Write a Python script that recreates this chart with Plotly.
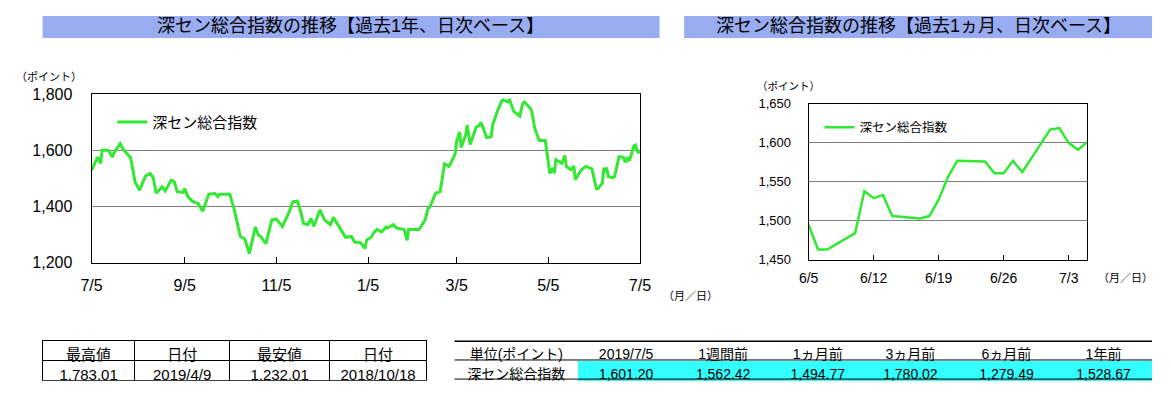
import plotly.graph_objects as go

# ---------------- data ----------------
year_dates = [
    "2018-07-05", "2018-07-09", "2018-07-11", "2018-07-12", "2018-07-16", "2018-07-19",
    "2018-07-20", "2018-07-24", "2018-07-26", "2018-07-31", "2018-08-03", "2018-08-06",
    "2018-08-08", "2018-08-10", "2018-08-13", "2018-08-15", "2018-08-17", "2018-08-21",
    "2018-08-23", "2018-08-27", "2018-08-29", "2018-08-31", "2018-09-04", "2018-09-05",
    "2018-09-07", "2018-09-10", "2018-09-14", "2018-09-17", "2018-09-19", "2018-09-21",
    "2018-09-25", "2018-09-27", "2018-09-28", "2018-10-05", "2018-10-08", "2018-10-12",
    "2018-10-15", "2018-10-18", "2018-10-22", "2018-10-24", "2018-10-26", "2018-10-29",
    "2018-11-02", "2018-11-05", "2018-11-09", "2018-11-13", "2018-11-16", "2018-11-19",
    "2018-11-21", "2018-11-23", "2018-11-26", "2018-11-28", "2018-11-30", "2018-12-04",
    "2018-12-07", "2018-12-11", "2018-12-13", "2018-12-17", "2018-12-19", "2018-12-21",
    "2018-12-25", "2018-12-27", "2018-12-31", "2019-01-03", "2019-01-04", "2019-01-07",
    "2019-01-09", "2019-01-11", "2019-01-14", "2019-01-17", "2019-01-18", "2019-01-22",
    "2019-01-24", "2019-01-29", "2019-01-31", "2019-02-01", "2019-02-08", "2019-02-12",
    "2019-02-14", "2019-02-15", "2019-02-19", "2019-02-22", "2019-02-25", "2019-02-28",
    "2019-03-04", "2019-03-05", "2019-03-07", "2019-03-08", "2019-03-11", "2019-03-12",
    "2019-03-14", "2019-03-18", "2019-03-20", "2019-03-21", "2019-03-22", "2019-03-25",
    "2019-03-28", "2019-03-29", "2019-04-01", "2019-04-04", "2019-04-05", "2019-04-08",
    "2019-04-09", "2019-04-12", "2019-04-16", "2019-04-18", "2019-04-19", "2019-04-23",
    "2019-04-24", "2019-04-26", "2019-04-29", "2019-05-03", "2019-05-06", "2019-05-08",
    "2019-05-09", "2019-05-10", "2019-05-14", "2019-05-16", "2019-05-17", "2019-05-20",
    "2019-05-22", "2019-05-23", "2019-05-27", "2019-05-30", "2019-06-03", "2019-06-04",
    "2019-06-05", "2019-06-06", "2019-06-07", "2019-06-10", "2019-06-11", "2019-06-12",
    "2019-06-13", "2019-06-14", "2019-06-17", "2019-06-18", "2019-06-19", "2019-06-20",
    "2019-06-21", "2019-06-24", "2019-06-25", "2019-06-26", "2019-06-27", "2019-06-28",
    "2019-07-01", "2019-07-02", "2019-07-03", "2019-07-04", "2019-07-05",
]
year_values = [
    1528.67, 1576, 1554, 1601, 1601, 1576,
    1593, 1624, 1604, 1574, 1486, 1458,
    1486, 1509, 1518, 1503, 1447, 1470,
    1455, 1494, 1489, 1453, 1450, 1464,
    1436, 1419, 1410, 1383, 1413, 1444,
    1446, 1435, 1444, 1444, 1388, 1293,
    1284, 1232.01, 1327, 1298, 1290, 1267,
    1352, 1355, 1329, 1374, 1417, 1419,
    1385, 1340, 1335, 1357, 1329, 1388,
    1352, 1335, 1361, 1323, 1307, 1290,
    1293, 1273, 1271, 1250, 1279.49, 1290,
    1307, 1318, 1309, 1327, 1323, 1335,
    1323, 1318, 1279, 1318, 1318, 1352,
    1394, 1396, 1447, 1453, 1552, 1543,
    1588, 1633, 1666, 1610, 1655, 1691,
    1621, 1683, 1689, 1700, 1689, 1646,
    1649, 1691, 1739, 1776, 1780.02, 1773,
    1783.01, 1739, 1722, 1767, 1773, 1751,
    1739, 1678, 1635, 1635, 1518, 1537,
    1518, 1567, 1554, 1582, 1543, 1531,
    1545, 1496, 1531, 1543, 1534, 1511,
    1494.77, 1463, 1463, 1484, 1538, 1529,
    1533, 1506, 1503, 1506, 1527, 1556,
    1577, 1576, 1561, 1561, 1577, 1562.42,
    1617, 1619, 1600, 1591, 1601.20,
]

month_dates = [
    "2019-06-05", "2019-06-06", "2019-06-07", "2019-06-10", "2019-06-11", "2019-06-12",
    "2019-06-13", "2019-06-14", "2019-06-17", "2019-06-18", "2019-06-19", "2019-06-20",
    "2019-06-21", "2019-06-24", "2019-06-25", "2019-06-26", "2019-06-27", "2019-06-28",
    "2019-07-01", "2019-07-02", "2019-07-03", "2019-07-04", "2019-07-05",
]
month_values = [
    1494.77, 1463, 1463, 1484, 1538, 1529,
    1533, 1506, 1503, 1506, 1527, 1556,
    1577, 1576, 1561, 1561, 1577, 1562.42,
    1617, 1619, 1600, 1591, 1601.20,
]

year_tick_dates = ["2018-07-05", "2018-09-05", "2018-11-05", "2019-01-05",
                   "2019-03-05", "2019-05-05", "2019-07-05"]
year_tick_text = ["7/5", "9/5", "11/5", "1/5", "3/5", "5/5", "7/5"]
month_tick_dates = ["2019-06-05", "2019-06-12", "2019-06-19", "2019-06-26", "2019-07-03"]
month_tick_text = ["6/5", "6/12", "6/19", "6/26", "7/3"]
year_y_ticks = [1200, 1400, 1600, 1800]
month_y_ticks = [1450, 1500, 1550, 1600, 1650]

series_name = "深セン総合指数"
title_year = "深セン総合指数の推移【過去1年、日次ベース】"
title_month = "深セン総合指数の推移【過去1ヵ月、日次ベース】"
unit_label = "（ポイント）"
axis_unit = "（月／日）"

stats_header = ["最高値", "日付", "最安値", "日付"]
stats_values = ["1,783.01", "2019/4/9", "1,232.01", "2018/10/18"]
compare_header = ["単位(ポイント)", "2019/7/5", "1週間前", "1ヵ月前", "3ヵ月前", "6ヵ月前", "1年前"]
compare_row = ["深セン総合指数", "1,601.20", "1,562.42", "1,494.77", "1,780.02", "1,279.49", "1,528.67"]

# ---------------- helpers ----------------
# the page keeps the browser's default 8px body margin, so the figure is
# sized to fill the rest of the 1171x398 window and page pixels are mapped
# into it.
PAGE_W, PAGE_H, M = 1171, 398, 8
W, H = PAGE_W - 2 * M, PAGE_H - 2 * M
def ux(x):
    return (x - M) / W
def uy(y):
    return 1 - (y - M) / H
def px(x):
    return min(max(ux(x), 0.0), 1.0)
def py(y):
    return min(max(uy(y), 0.0), 1.0)

GREEN = "#33e833"
FONT = "Liberation Sans, Arial, Noto Sans CJK JP, sans-serif"
NARROW = "Liberation Sans Narrow, Liberation Sans, Noto Sans CJK JP, sans-serif"
BAR = "#99acf2"
CYAN = "#33ffff"

fig = go.Figure()

fig.add_trace(go.Scatter(
    x=year_dates, y=year_values, mode="lines", name=series_name,
    line=dict(color=GREEN, width=3), xaxis="x", yaxis="y", legend="legend",
))
fig.add_trace(go.Scatter(
    x=month_dates, y=month_values, mode="lines", name=series_name,
    line=dict(color=GREEN, width=2.5), xaxis="x2", yaxis="y2", legend="legend2",
))

# tables (domain a little taller than the two rows so nothing is clipped)
fig.add_trace(go.Table(
    domain=dict(x=[px(32), px(424)], y=[py(390), py(348)]),
    columnwidth=[94, 97, 102, 99],
    header=dict(values=stats_header, height=20, align="center",
                line=dict(color="black", width=1), fill=dict(color="white"),
                font=dict(family=FONT, size=15, color="black")),
    cells=dict(values=[[v] for v in stats_values], height=20, align="center",
               line=dict(color="black", width=1), fill=dict(color="white"),
               font=dict(family=FONT, size=15, color="black")),
))

fills = [["white"]] + [[CYAN]] * (len(compare_row) - 1)
fig.add_trace(go.Table(
    domain=dict(x=[px(452), px(1163)], y=[py(390), py(348)]),
    columnwidth=[126, 98, 100, 93, 96, 100, 98],
    header=dict(values=compare_header, height=20, align="center",
                line=dict(color="white", width=1), fill=dict(color="white"),
                font=dict(family=NARROW, size=14, color="black")),
    cells=dict(values=[[v] for v in compare_row], height=20, align="center",
               line=dict(color=fills, width=1), fill=dict(color=fills),
               font=dict(family=NARROW, size=14, color="black")),
))

axis_common = dict(showline=True, linecolor="black", linewidth=1, mirror=True)

fig.update_layout(
    width=W, height=H,
    margin=dict(l=0, r=0, t=0, b=0),
    paper_bgcolor="white", plot_bgcolor="white",
    font=dict(family=FONT, color="black"),
    xaxis=dict(
        domain=[px(82), px(641)], anchor="y", type="date",
        range=[year_tick_dates[0], year_tick_dates[-1]],
        tickmode="array", tickvals=year_tick_dates, ticktext=year_tick_text,
        ticks="inside", ticklen=6, tickcolor="black", showgrid=False,
        tickfont=dict(size=16, family=FONT), ticklabelstandoff=8, **axis_common,
    ),
    yaxis=dict(
        domain=[py(266), py(90)], anchor="x", range=[1200, 1800],
        tickmode="array", tickvals=year_y_ticks, tickformat=",",
        ticks="", showgrid=True, gridcolor="#808080", gridwidth=1,
        tickfont=dict(size=16, family=FONT), ticklabelstandoff=15, **axis_common,
    ),
    xaxis2=dict(
        domain=[px(813), px(1097)], anchor="y2", type="date",
        range=[month_tick_dates[0], month_dates[-1]],
        tickmode="array", tickvals=month_tick_dates, ticktext=month_tick_text,
        ticks="inside", ticklen=5, tickcolor="black", showgrid=False,
        tickfont=dict(size=14, family=FONT), ticklabelstandoff=6, **axis_common,
    ),
    yaxis2=dict(
        domain=[py(263), py(100)], anchor="x2", range=[1450, 1650],
        tickmode="array", tickvals=month_y_ticks, tickformat=",",
        ticks="", showgrid=True, gridcolor="#808080", gridwidth=1,
        tickfont=dict(size=13, family=FONT), ticklabelstandoff=14, **axis_common,
    ),
    legend=dict(
        x=px(103), y=py(102), xanchor="left", yanchor="top",
        bgcolor="rgba(0,0,0,0)", itemwidth=30, itemclick=False,
        font=dict(size=15, family=FONT),
    ),
    legend2=dict(
        x=px(824), y=py(109), xanchor="left", yanchor="top",
        bgcolor="rgba(0,0,0,0)", itemwidth=30, itemclick=False,
        font=dict(size=12.5, family=FONT),
    ),
    showlegend=True,
)

# title bars
fig.add_shape(type="rect", xref="paper", yref="paper",
              x0=px(32), x1=px(661), y0=py(31), y1=py(8),
              fillcolor=BAR, line=dict(width=0), layer="below")
fig.add_shape(type="rect", xref="paper", yref="paper",
              x0=px(686), x1=px(1163), y0=py(31), y1=py(8),
              fillcolor=BAR, line=dict(width=0), layer="below")
fig.add_annotation(text=title_year, xref="paper", yref="paper",
                   x=px(346), y=py(18), xanchor="center", yanchor="middle",
                   showarrow=False, font=dict(size=18, family=FONT))
fig.add_annotation(text=title_month, xref="paper", yref="paper",
                   x=px(925), y=py(18), xanchor="center", yanchor="middle",
                   showarrow=False, font=dict(size=18, family=FONT))

# unit labels
fig.add_annotation(text=unit_label, xref="paper", yref="paper",
                   x=ux(3), y=py(72), xanchor="left", yanchor="middle",
                   showarrow=False, font=dict(size=11, family=FONT))
fig.add_annotation(text=unit_label, xref="paper", yref="paper",
                   x=px(792), y=py(81), xanchor="center", yanchor="middle",
                   showarrow=False, font=dict(size=10.5, family=FONT))
fig.add_annotation(text=axis_unit, xref="paper", yref="paper",
                   x=px(662), y=py(301), xanchor="left", yanchor="middle",
                   showarrow=False, font=dict(size=11, family=FONT))
fig.add_annotation(text=axis_unit, xref="paper", yref="paper",
                   x=px(1106), y=py(282), xanchor="left", yanchor="middle",
                   showarrow=False, font=dict(size=11, family=FONT))

# horizontal rules of comparison table
for yy, ww in [(348.5, 1.5), (368, 1), (388, 1)]:
    fig.add_shape(type="line", xref="paper", yref="paper",
                  x0=px(452), x1=px(1163), y0=py(yy), y1=py(yy),
                  line=dict(color="black", width=ww), layer="above")

fig.write_html("out.html", config={"displayModeBar": False})
